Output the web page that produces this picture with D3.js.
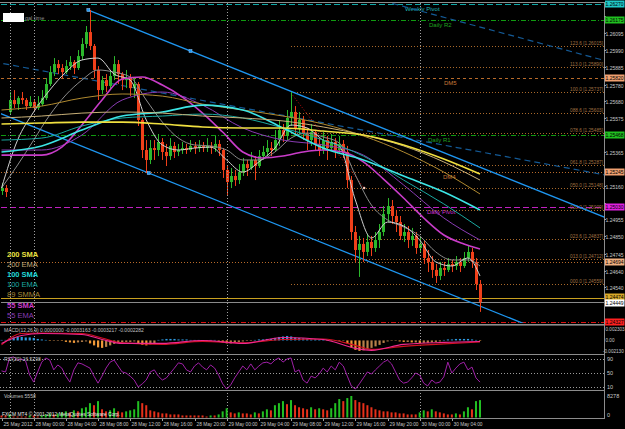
<!DOCTYPE html>
<html><head><meta charset="utf-8">
<script src="https://cdn.jsdelivr.net/npm/d3@7"></script>
<style>
html,body{margin:0;padding:0;background:#000;overflow:hidden;}
svg{display:block;font-family:"Liberation Sans",Arial,sans-serif;}
</style></head><body>
<svg id="chart" width="625" height="429"></svg>
<script>
// ---- candles (M30), bar index 0..119 ----
var opens = [1.25128,1.25146,1.25612,1.25685,1.25660,1.25697,1.25685,1.25648,1.25673,1.25636,
1.25660,1.25697,1.25783,1.25856,1.25905,1.25881,1.25856,1.25893,1.25918,1.25881,
1.25954,1.26028,1.26101,1.26016,1.25869,1.25746,1.25807,1.25771,1.25832,1.25905,
1.25844,1.25807,1.25820,1.25758,1.25783,1.25563,1.25379,1.25318,1.25391,1.25379,
1.25428,1.25367,1.25342,1.25404,1.25367,1.25379,1.25391,1.25379,1.25404,1.25391,
1.25404,1.25391,1.25404,1.25391,1.25416,1.25379,1.25257,1.25183,1.25220,1.25195,
1.25244,1.25293,1.25269,1.25318,1.25281,1.25342,1.25367,1.25391,1.25379,1.25440,
1.25501,1.25465,1.25575,1.25612,1.25514,1.25563,1.25477,1.25440,1.25489,1.25416,
1.25379,1.25440,1.25391,1.25428,1.25379,1.25416,1.25367,1.25195,1.24877,1.24767,
1.24804,1.24755,1.24816,1.24779,1.24828,1.24877,1.24987,1.25036,1.24975,1.24938,
1.24853,1.24877,1.24828,1.24853,1.24779,1.24804,1.24718,1.24694,1.24645,1.24608,
1.24657,1.24645,1.24681,1.24669,1.24694,1.24669,1.24718,1.24755,1.24694,1.24559];
var highs = [1.25177,1.25165,1.25734,1.25746,1.25709,1.25734,1.25697,1.25709,1.25685,1.25709,
1.25746,1.25820,1.25893,1.25942,1.25930,1.25905,1.25930,1.25954,1.25930,1.25991,
1.26064,1.26138,1.26236,1.26028,1.25893,1.25832,1.25844,1.25869,1.25954,1.25930,
1.25856,1.25869,1.25844,1.25820,1.25795,1.25575,1.25440,1.25440,1.25440,1.25477,
1.25452,1.25416,1.25452,1.25428,1.25416,1.25428,1.25416,1.25440,1.25428,1.25440,
1.25428,1.25452,1.25428,1.25465,1.25440,1.25391,1.25281,1.25269,1.25257,1.25293,
1.25330,1.25318,1.25367,1.25342,1.25379,1.25404,1.25440,1.25428,1.25501,1.25563,
1.25538,1.25624,1.25734,1.25648,1.25612,1.25587,1.25514,1.25538,1.25501,1.25452,
1.25489,1.25465,1.25477,1.25452,1.25465,1.25440,1.25404,1.25220,1.24914,1.24853,
1.24840,1.24865,1.24853,1.24877,1.24926,1.25036,1.25085,1.25073,1.25012,1.24975,
1.24926,1.24914,1.24902,1.24877,1.24853,1.24828,1.24767,1.24730,1.24681,1.24694,
1.24694,1.24718,1.24706,1.24730,1.24718,1.24755,1.24792,1.24779,1.24718,1.24583];
var lows = [1.25104,1.25091,1.25593,1.25636,1.25624,1.25660,1.25624,1.25636,1.25612,1.25624,
1.25648,1.25685,1.25771,1.25832,1.25844,1.25820,1.25844,1.25869,1.25844,1.25869,
1.25930,1.26003,1.25991,1.25820,1.25685,1.25722,1.25734,1.25746,1.25807,1.25783,
1.25746,1.25758,1.25709,1.25697,1.25526,1.25330,1.25238,1.25293,1.25318,1.25342,
1.25318,1.25281,1.25318,1.25330,1.25342,1.25355,1.25355,1.25367,1.25355,1.25367,
1.25367,1.25367,1.25355,1.25367,1.25342,1.25208,1.25104,1.25146,1.25159,1.25171,
1.25220,1.25220,1.25257,1.25195,1.25269,1.25318,1.25342,1.25342,1.25367,1.25404,
1.25428,1.25440,1.25526,1.25477,1.25477,1.25440,1.25379,1.25404,1.25379,1.25342,
1.25355,1.25318,1.25379,1.25330,1.25355,1.25330,1.25146,1.24828,1.24694,1.24602,
1.24694,1.24730,1.24730,1.24755,1.24779,1.24853,1.24938,1.24926,1.24877,1.24828,
1.24816,1.24779,1.24792,1.24743,1.24755,1.24681,1.24632,1.24596,1.24565,1.24583,
1.24608,1.24632,1.24632,1.24645,1.24632,1.24657,1.24694,1.24657,1.24522,1.24388];
var closes = [1.25146,1.25122,1.25685,1.25660,1.25697,1.25685,1.25648,1.25673,1.25636,1.25660,
1.25697,1.25783,1.25856,1.25905,1.25881,1.25856,1.25893,1.25918,1.25881,1.25954,
1.26028,1.26101,1.26016,1.25869,1.25746,1.25807,1.25771,1.25832,1.25905,1.25844,
1.25807,1.25820,1.25758,1.25783,1.25563,1.25379,1.25318,1.25391,1.25379,1.25428,
1.25367,1.25342,1.25404,1.25367,1.25379,1.25391,1.25379,1.25404,1.25391,1.25404,
1.25391,1.25404,1.25391,1.25416,1.25379,1.25257,1.25183,1.25220,1.25195,1.25244,
1.25293,1.25269,1.25318,1.25281,1.25342,1.25367,1.25391,1.25379,1.25440,1.25501,
1.25465,1.25575,1.25612,1.25514,1.25563,1.25477,1.25440,1.25489,1.25416,1.25379,
1.25440,1.25391,1.25428,1.25379,1.25416,1.25367,1.25195,1.24877,1.24767,1.24804,
1.24755,1.24816,1.24779,1.24828,1.24877,1.24987,1.25036,1.24975,1.24938,1.24853,
1.24877,1.24828,1.24853,1.24779,1.24804,1.24718,1.24694,1.24645,1.24608,1.24657,
1.24645,1.24681,1.24669,1.24694,1.24669,1.24718,1.24755,1.24694,1.24559,1.24449];

// ---- moving averages, read at sample bars ----
var maIdx = [0,10,20,30,40,50,60,70,80,90,100,110,119];
var sma200 = [1.25538,1.25544,1.25550,1.25550,1.25538,1.25520,1.25514,1.25514,1.25495,1.25471,1.25410,1.25324,1.25232];
var ema200 = [1.25575,1.25587,1.25605,1.25612,1.25605,1.25587,1.25575,1.25557,1.25520,1.25471,1.25404,1.25306,1.25195];
var smma89 = [1.25624,1.25648,1.25697,1.25722,1.25709,1.25660,1.25624,1.25587,1.25538,1.25465,1.25367,1.25244,1.25110];
var sma100 = [1.25367,1.25404,1.25501,1.25587,1.25612,1.25654,1.25624,1.25514,1.25391,1.25318,1.25220,1.25122,1.25012];
var ema100 = [1.25440,1.25452,1.25526,1.25575,1.25587,1.25599,1.25575,1.25514,1.25440,1.25342,1.25195,1.25049,1.24902];
var ema55 = [1.25379,1.25379,1.25471,1.25685,1.25734,1.25654,1.25514,1.25440,1.25410,1.25348,1.25165,1.24963,1.24828];
var sma55Idx = [0,10,15,20,25,30,35,40,45,50,55,60,65,70,75,80,85,90,95,100,105,110,115,119];
var sma55 = [1.25348,1.25348,1.25397,1.25532,1.25685,1.25814,1.25826,1.25777,1.25703,1.25605,1.25489,1.25367,1.25330,1.25342,1.25367,1.25379,1.25367,1.25306,1.25201,1.25085,1.24963,1.24859,1.24804,1.24773];
var fastIdx = [0,4,8,12,16,20,24,28,32,36,40,44,48,52,56,60,64,68,72,76,80,84,88,92,96,100,104,108,112,116,119];
var fastMa = [1.25146,1.25440,1.25612,1.25746,1.25856,1.25930,1.25942,1.25844,1.25807,1.25563,1.25410,1.25379,1.25391,1.25397,1.25318,1.25244,1.25306,1.25391,1.25532,1.25514,1.25440,1.25404,1.25073,1.24840,1.24938,1.24914,1.24828,1.24694,1.24669,1.24718,1.24608];
var slowMa = [1.25146,1.25287,1.25440,1.25593,1.25716,1.25807,1.25869,1.25856,1.25826,1.25685,1.25550,1.25452,1.25410,1.25404,1.25379,1.25318,1.25318,1.25367,1.25452,1.25483,1.25459,1.25422,1.25226,1.25042,1.24951,1.24908,1.24853,1.24755,1.24706,1.24706,1.24669];

// ---- drawn objects ----
var chanA = [21.6, 1.26236], chanB = [47, 1.25985], chanC = [36.6, 1.25238];
var dash1 = [[0, 1.25910], [119, 1.25368]];
var dash2 = [[98, 1.26271], [119, 1.26132]];
var redTrend = [[72, 1.25728], [90.2, 1.25146]];
var fibStart = 72;
var fibLevels = ["123.6","113.0","100.0","088.6","078.6","061.8","050.0","038.2","023.6","013.0","000.0"];
var fibPrices = [1.26015,1.25890,1.25737,1.25603,1.25485,1.25287,1.25148,1.25009,1.24837,1.24712,1.24559];
var pivotNames = ["Weekly Pivot","Daily R2","DM5","Daily R1","DM4","Daily Pivot","","","",""];
var pivotPrices = [1.26270,1.26175,1.25820,1.25468,1.25245,1.25030,1.24694,1.24474,1.24449,1.24327];
var priceTicks = [1.26200,1.26095,1.25990,1.25885,1.25780,1.25680,1.25575,1.25470,1.25365,1.25260,1.25160,1.25055,1.24955,1.24850,1.24745,1.24640,1.24540];
var timeIdx = [0,8,16,24,32,40,48,56,64,72,80,88,96,104,112];
var timeLabels = ["25 May 2012","28 May 00:00","28 May 04:00","28 May 08:00","28 May 12:00","28 May 16:00","28 May 20:00","29 May 00:00","29 May 04:00","29 May 08:00","29 May 12:00","29 May 16:00","29 May 20:00","30 May 00:00","30 May 04:00"];
var sepIdx = [2,8,56,104];
var legendNames = ["200 SMA","200 EMA","100 SMA","100 EMA","89 SMMA","55 SMA","55 EMA"];

// ---- sub windows ----
// MACD histogram per bar, in units of 0.0001
var macdHist = [1,1,4,6,7,7,6,6,5,3,2,1,0,0,0,-1,-3,-4,-5,-4,-3,-2,
-6,-10,-14,-15,-13,-10,-7,-5,-4,-3,-3,-2,-6,-9,-10,-8,-6,
1,2,3,3,3,2,2,2,1,1,1,0,0,1,1,0,-4,-6,-6,-5,-3,-2,
-1,0,1,2,2,3,3,5,7,8,9,8,6,5,4,3,2,2,1,1,0,0,0,-1,-1,
-6,-14,-19,-21,-20,-18,-15,-12,-9,-5,-2,-1,-1,-2,-3,
-3,-4,-4,-5,-5,-5,-4,-3,-2,1,2,2,3,3,3,3,2,1,-1];
var macdLineIdx = [0,5,10,20,25,30,40,50,60,70,80,88,92,100,110,119];
var macdSignal = [-9,14,15,14,5,-5,-8,-2,-5,2,3,-10,-18,-12,-7,-3.2];
var macdMain = [-6,10,14,12,2,-6,-6,0,-6,6,2,-16,-20,-8,-4,-2.3];
var macdTicks = [0.002303, 0, -0.002130];
var macdTickText = ["0.002303","0.00","-0.002130"];
var rsiVals = [56,53,93,96,87,90,84,44,24,53,81,93,87,59,73,64,41,24,59,79,
76,70,64,41,21,41,64,81,87,70,53,50,41,30,10,19,30,53,59,41,
30,36,50,64,79,76,59,53,70,79,67,59,73,64,44,19,4,16,36,53,
70,59,76,59,70,79,81,76,87,93,81,90,93,53,59,30,21,41,36,47,
64,53,70,59,81,70,41,13,4,19,36,53,47,59,70,81,87,76,53,30,
21,24,36,50,44,21,13,30,21,24,39,81,50,64,76,81,59,67,36,24];
var rsiLevels = [90,50,10];
var volumes = [788,788,1182,394,394,394,394,788,788,394,788,1182,1576,1182,1576,1970,2364,1970,2758,2364,
3546,3940,5516,4728,6304,3152,2364,2758,3546,2364,1970,2364,2758,3152,6304,5516,4728,2758,2364,1970,
1576,1576,1182,1182,1182,788,788,788,788,788,788,394,788,788,1182,2364,3546,1970,1576,1970,
1576,1576,1182,1970,1576,2364,3152,2758,4728,5516,6304,5122,6698,4728,3940,3546,3152,3940,3152,3546,
3152,2758,3546,5516,7092,6304,7486,8278,6698,5910,5516,4728,3940,3152,2758,2364,2364,1970,1970,1576,
1576,1182,1182,1182,1970,2758,2364,3152,2364,1970,1576,1182,1182,1576,1182,2364,3940,3152,6304,6698];

// ---- layout ----
var svg = d3.select('#chart');
var L = 1, R = 604, T = 3, B = 323;
svg.append('rect').attr('width', 625).attr('height', 429).attr('fill', '#000');

var x = d3.scaleLinear().domain([0, 119]).range([1.5, 480]);
var y = d3.scaleLinear().domain([1.24320, 1.26279]).range([B, T]);

svg.append('clipPath').attr('id', 'clipMain').append('rect')
  .attr('x', L).attr('y', T).attr('width', R - L).attr('height', B - T);
var main = svg.append('g').attr('clip-path', 'url(#clipMain)');

function fitText(sel, len) {
  return sel.attr('textLength', len).attr('lengthAdjust', 'spacingAndGlyphs');
}

/* period separators */
var sepG = svg.append('g');
sepIdx.forEach(function (i) {
  sepG.append('line').attr('x1', Math.round(x(i)) + 0.5).attr('x2', Math.round(x(i)) + 0.5)
    .attr('y1', T).attr('y2', 418).attr('stroke', '#a0a0a0').attr('stroke-width', 1)
    .attr('stroke-dasharray', '1,2');
});

/* pivot lines */
var pivStyle = [
  {c: '#10a8a8', d: '6,3', box: '#20c8c8', tc: '#20b8b8', lx: 405},
  {c: '#109a10', d: '5,2,1,2', box: '#20c020', tc: '#20a020', lx: 429},
  {c: '#b86a2a', d: '3,3', box: '#f0a070', tc: '#c87838', lx: 444},
  {c: '#109a10', d: '5,2,1,2', box: '#20c020', tc: '#20a020', lx: 428},
  {c: '#b86a2a', d: '1,2', box: '#f0a070', tc: '#c87838', lx: 443},
  {c: '#c020c0', d: '6,3', box: '#e020e0', tc: '#d030d0', lx: 427},
  {c: '#b86a2a', d: '1,2', box: '#f0b080', tc: '#c87838', lx: 0},
  {c: '#c8a020', d: null, box: '#d8a828', tc: '#c8a020', lx: 0},
  {c: '#8a8a8a', d: null, box: '#ffffff', tc: '#aaa', lx: 0},
  {c: '#e01010', d: '5,2,1,2', box: '#ff2020', tc: '#e01010', lx: 0}
];
pivotPrices.forEach(function (p, k) {
  var yy = Math.round(y(p)) + 0.5;
  var ln = main.append('line').attr('x1', L).attr('x2', R).attr('y1', yy).attr('y2', yy)
    .attr('stroke', pivStyle[k].c).attr('stroke-width', 1);
  if (pivStyle[k].d) ln.attr('stroke-dasharray', pivStyle[k].d);
  if (pivotNames[k]) {
    main.append('text').attr('x', pivStyle[k].lx).attr('y', yy + 6.5)
      .attr('fill', pivStyle[k].tc).attr('font-size', 6).text(pivotNames[k]);
  }
});

/* fibonacci levels */
fibPrices.forEach(function (p, k) {
  var yy = Math.round(y(p)) + 0.5;
  main.append('line').attr('x1', x(fibStart)).attr('x2', R).attr('y1', yy).attr('y2', yy)
    .attr('stroke', '#a8682a').attr('stroke-dasharray', '1,2');
  fitText(main.append('text').attr('x', 570).attr('y', yy - 1.5)
    .attr('fill', '#a07040').attr('font-size', 5).text(fibLevels[k] + ' [' + p.toFixed(5) + ']'), 33);
});

/* channel + trend lines */
function extend(a, b, i0, i1) {
  var s = (b[1] - a[1]) / (b[0] - a[0]);
  return [[i0, a[1] + s * (i0 - a[0])], [i1, a[1] + s * (i1 - a[0])]];
}
var lineG = d3.line().x(function (d) { return x(d[0]); }).y(function (d) { return y(d[1]); });
var chanSlope = (chanB[1] - chanA[1]) / (chanB[0] - chanA[0]);
var upper = extend(chanA, chanB, chanA[0], 160);
var lower = extend(chanC, [chanC[0] + 1, chanC[1] + chanSlope], -2, 160);
main.append('path').attr('d', lineG(extend(dash1[0], dash1[1], -2, 160))).attr('fill', 'none')
  .attr('stroke', '#145a96').attr('stroke-width', 1.2).attr('stroke-dasharray', '6,4');
main.append('path').attr('d', lineG(extend(dash2[0], dash2[1], 90, 160))).attr('fill', 'none')
  .attr('stroke', '#145a96').attr('stroke-width', 1.2).attr('stroke-dasharray', '6,4');
main.append('path').attr('d', lineG(upper)).attr('fill', 'none').attr('stroke', '#1e96f0').attr('stroke-width', 1.3);
main.append('path').attr('d', lineG(lower)).attr('fill', 'none').attr('stroke', '#1e96f0').attr('stroke-width', 1.3);
main.append('path').attr('d', lineG(redTrend)).attr('fill', 'none').attr('stroke', '#d01010')
  .attr('stroke-dasharray', '1,2');

/* candles */
var candleG = main.append('g');
closes.forEach(function (c, i) {
  var o = opens[i], up = c >= o;
  var col = up ? '#2cb82c' : '#f0401a';
  var cx = Math.round(x(i)) + 0.5;
  candleG.append('line').attr('x1', cx).attr('x2', cx).attr('y1', y(highs[i])).attr('y2', y(lows[i]))
    .attr('stroke', col).attr('stroke-width', 1);
  var yt = y(Math.max(o, c)), yb = y(Math.min(o, c));
  candleG.append('rect').attr('x', cx - 1.5).attr('width', 3).attr('y', yt)
    .attr('height', Math.max(1, yb - yt)).attr('fill', col);
});

/* moving averages */
function maLine(idx, vals, col, w) {
  var pts = idx.map(function (i, k) { return [i, vals[k]]; });
  var gen = d3.line().x(function (d) { return x(d[0]); }).y(function (d) { return y(d[1]); })
    .curve(d3.curveMonotoneX);
  main.append('path').attr('d', gen(pts)).attr('fill', 'none').attr('stroke', col).attr('stroke-width', w);
}
maLine(fastIdx, slowMa, '#8c8c8c', 1);
maLine(fastIdx, fastMa, '#d0d0d0', 1);
maLine(maIdx, ema55, '#8a3cb4', 1);
maLine(sma55Idx, sma55, '#c83cc8', 1.6);
maLine(maIdx, smma89, '#b08a30', 1);
maLine(maIdx, ema100, '#1aa8a0', 1);
maLine(maIdx, sma100, '#3ce6e6', 1.6);
maLine(maIdx, ema200, '#c8b078', 1);
maLine(maIdx, sma200, '#f0e040', 1.6);

/* channel anchor squares */
[chanA, chanB, chanC].forEach(function (a) {
  main.append('rect').attr('x', x(a[0]) - 1.5).attr('y', y(a[1]) - 1.5).attr('width', 3).attr('height', 3)
    .attr('fill', '#1e96f0').attr('stroke', '#9cd0ff').attr('stroke-width', 0.5);
});
main.append('circle').attr('cx', x(redTrend[1][0])).attr('cy', y(redTrend[1][1])).attr('r', 1.2).attr('fill', '#ffd0c0');

/* legend */
var legCol = ['#e8e040', '#c0a878', '#20d8d8', '#1aa8a0', '#a88a38', '#c83cc8', '#8a3cb4'];
var legBold = [1, 0, 1, 0, 0, 1, 0];
legendNames.forEach(function (n, k) {
  svg.append('text').attr('x', 7).attr('y', 256.5 + k * 10.2).attr('fill', legCol[k])
    .attr('font-size', 7.5).attr('font-weight', legBold[k] ? 'bold' : 'normal').text(n);
});

/* top-left box */
svg.append('rect').attr('x', 3).attr('y', 13).attr('width', 21).attr('height', 9).attr('fill', '#fff');
svg.append('text').attr('x', 25).attr('y', 20).attr('fill', '#909090').attr('font-size', 5.5).text('gal time');

/* frames */
var frame = svg.append('g').attr('fill', 'none').attr('stroke', '#8c8c8c');
frame.append('line').attr('x1', 0).attr('x2', R).attr('y1', 2.5).attr('y2', 2.5);
frame.append('line').attr('x1', R + 0.5).attr('x2', R + 0.5).attr('y1', 2).attr('y2', 419);
[[324, 325], [354, 355], [390, 391], [418, 419]].forEach(function (s) {
  frame.append('rect').attr('x', 0).attr('y', s[0]).attr('width', R).attr('height', 1)
    .attr('fill', '#8c8c8c').attr('stroke', 'none');
});
frame.append('rect').attr('x', 0).attr('y', 324).attr('width', R + 1).attr('height', 1.6).attr('fill', '#8c8c8c').attr('stroke', 'none');

/* price axis */
var ax = svg.append('g');
var boxY = pivotPrices.map(function (p) { return Math.round(y(p)); });
priceTicks.forEach(function (p) {
  var yy = Math.round(y(p)) + 0.5;
  ax.append('line').attr('x1', R).attr('x2', R + 2).attr('y1', yy).attr('y2', yy).attr('stroke', '#a0a0a0');
  var hidden = boxY.some(function (b) { return Math.abs(b - yy) < 6; });
  if (!hidden) {
    ax.append('text').attr('x', R + 1.5).attr('y', yy + 2).attr('fill', '#c8c8c8').attr('font-size', 5)
      .text(p.toFixed(5));
  }
});
pivotPrices.forEach(function (p, k) {
  var yy = Math.round(y(p)) + (k === 7 ? -1 : (k === 8 ? 1 : 0));
  ax.append('rect').attr('x', R + 1).attr('y', yy - 3.5).attr('width', 19.5).attr('height', 7)
    .attr('fill', pivStyle[k].box);
  ax.append('text').attr('x', R + 1.5).attr('y', yy + 2).attr('fill', '#000').attr('font-size', 5)
    .text(p.toFixed(5));
});

/* MACD window */
var yM = d3.scaleLinear().domain([-0.002130, 0.002303]).range([351, 329]);
var mg = svg.append('g');
macdHist.forEach(function (v, i) {
  var val = v * 1e-4, prev = i ? macdHist[i - 1] : v;
  var col = v > 0 ? '#2f9ae0' : (v < prev ? '#f09838' : '#b8804a');
  var y0 = yM(0), y1 = yM(val);
  mg.append('rect').attr('x', x(i) - 1).attr('width', 2.2).attr('y', Math.min(y0, y1))
    .attr('height', Math.max(0.5, Math.abs(y1 - y0))).attr('fill', col);
});
function macdPath(vals, col) {
  var pts = macdLineIdx.map(function (i, k) { return [i, vals[k] * 1e-4]; });
  mg.append('path').attr('d', d3.line().x(function (d) { return x(d[0]); }).y(function (d) { return yM(d[1]); })
    .curve(d3.curveMonotoneX)(pts)).attr('fill', 'none').attr('stroke', col).attr('stroke-width', 1.1);
}
macdPath(macdSignal, '#d01020');
macdPath(macdMain, '#f02890');
svg.append('text').attr('x', 4).attr('y', 332).attr('fill', '#c0c0c0').attr('font-size', 5)
  .text('MACD(12,26,9) 0.0000000 -0.0003163 -0.0003217 -0.0002282');
macdTicks.forEach(function (t, k) {
  svg.append('text').attr('x', t < 0 ? R - 1 : R + 1.5).attr('y', yM(t) + 2).attr('fill', '#c8c8c8')
    .attr('font-size', 4.6).text(macdTickText[k]);
});

/* RSI window */
var yR = d3.scaleLinear().domain([0, 100]).range([390.5, 355.5]);
rsiLevels.forEach(function (l) {
  svg.append('line').attr('x1', 0).attr('x2', R).attr('y1', Math.round(yR(l)) + 0.5).attr('y2', Math.round(yR(l)) + 0.5)
    .attr('stroke', '#9a9a9a').attr('stroke-dasharray', '1,2');
  svg.append('text').attr('x', R + 3).attr('y', yR(l) + 2).attr('fill', '#c8c8c8').attr('font-size', 5.5).text(l);
});
svg.append('path').attr('d', d3.line().x(function (d, i) { return x(i); }).y(function (d) { return yR(d); })(rsiVals))
  .attr('fill', 'none').attr('stroke', '#a020a8').attr('stroke-width', 1);
svg.append('text').attr('x', 4).attr('y', 361).attr('fill', '#c0c0c0').attr('font-size', 5).text('RSI(20) 26.5298');

/* Volumes window */
var yV = d3.scaleLinear().domain([0, 8278]).range([417.5, 396]);
volumes.forEach(function (v, i) {
  var col = (i > 0 && v > volumes[i - 1]) ? '#22c022' : '#e8301a';
  svg.append('rect').attr('x', x(i) - 1).attr('width', 2).attr('y', yV(v)).attr('height', yV(0) - yV(v)).attr('fill', col);
});
svg.append('text').attr('x', 4).attr('y', 398).attr('fill', '#c0c0c0').attr('font-size', 5).text('Volumes 5558');
svg.append('text').attr('x', R + 3).attr('y', 398).attr('fill', '#c8c8c8').attr('font-size', 5.5).text('8278');
svg.append('text').attr('x', R + 3).attr('y', 417).attr('fill', '#c8c8c8').attr('font-size', 5.5).text('0');
fitText(svg.append('text').attr('x', 2).attr('y', 416).attr('fill', '#e8e8e8').attr('font-size', 5)
  .text('FXCM MT4 © 2001-2012 MetaQuotes Software Corp.'), 118);

/* time axis */
timeIdx.forEach(function (i, k) {
  var tx = Math.round(x(i)) + 0.5;
  svg.append('line').attr('x1', tx).attr('x2', tx).attr('y1', 419).attr('y2', 421).attr('stroke', '#a0a0a0');
  fitText(svg.append('text').attr('x', tx + 1).attr('y', 426).attr('fill', '#c8c8c8').attr('font-size', 5.5)
    .text(timeLabels[k]), 29);
});
</script></body></html>
